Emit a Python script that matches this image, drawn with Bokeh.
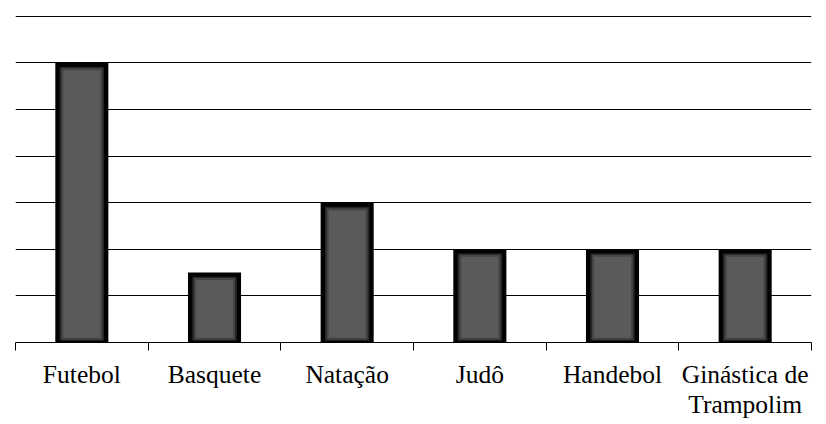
from bokeh.plotting import figure
from bokeh.models import Range1d, FixedTicker, ColumnDataSource
from bokeh.embed import file_html
from bokeh.resources import INLINE

categories = ["Futebol", "Basquete", "Natação", "Judô", "Handebol", "Ginástica de\nTrampolim"]
values = [6, 1.5, 3, 2, 2, 2]
y_ticks = [0, 1, 2, 3, 4, 5, 6, 7]

n = len(categories)
xs = [i + 0.5 for i in range(n)]

p = figure(width=826, height=421, output_backend="svg", toolbar_location=None,
           x_range=Range1d(0, n), y_range=Range1d(0, y_ticks[-1] + 0.015),
           min_border_left=15, min_border_right=15, min_border_top=15, min_border_bottom=0)
p.outline_line_color = None
p.background_fill_color = "white"
p.border_fill_color = "white"

# bars: outer dark frame + soft edge + inner gray body
src = ColumnDataSource(dict(x=xs, top=values,
                            mtop=[v - 0.09 for v in values],
                            itop=[v - 0.14 for v in values]))
p.vbar(x="x", top="top", bottom=0, width=0.40, source=src,
       fill_color="#020202", line_color=None)
p.vbar(x="x", top="mtop", bottom=0.04, width=0.335, source=src,
       fill_color="#262626", line_color=None)
p.vbar(x="x", top="itop", bottom=0.08, width=0.295, source=src,
       fill_color="#5a5a5a", line_color="#444444", line_width=2)

# axes
p.yaxis.visible = False
p.ygrid.ticker = FixedTicker(ticks=y_ticks)
p.ygrid.grid_line_color = "black"
p.ygrid.grid_line_width = 1
p.xgrid.visible = False

xa = p.xaxis[0]
xa.ticker = FixedTicker(ticks=xs, minor_ticks=list(range(n + 1)))
xa.major_label_overrides = {x: c for x, c in zip(xs, categories)}
xa.axis_line_color = "black"
xa.axis_line_width = 1
xa.major_tick_line_color = None
xa.minor_tick_line_color = "black"
xa.minor_tick_out = 8
xa.minor_tick_in = 0
xa.major_label_standoff = 9
xa.major_label_text_font = "Liberation Serif"
xa.major_label_text_font_size = "25.5px"
xa.major_label_text_color = "black"
xa.major_label_text_line_height = 1.05

open("out.html", "w").write(file_html(p, INLINE))
